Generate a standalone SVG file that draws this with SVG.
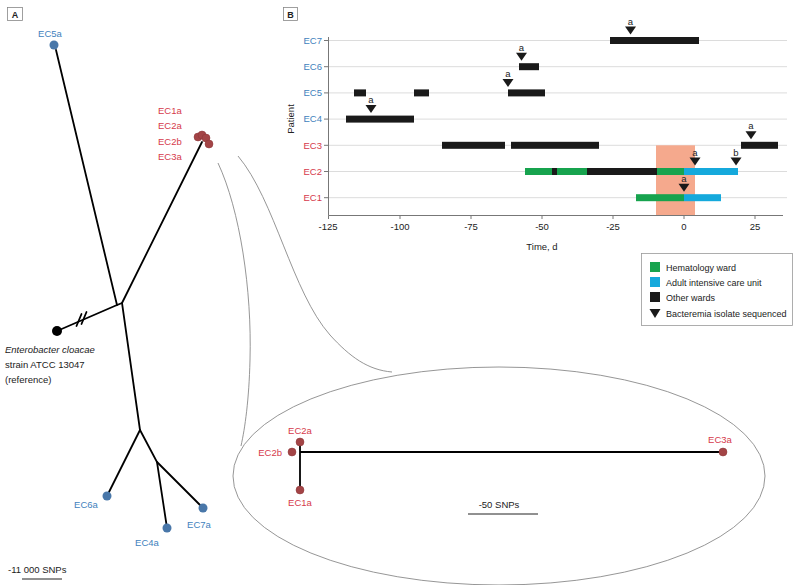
<svg xmlns="http://www.w3.org/2000/svg" width="800" height="585" viewBox="0 0 800 585">
<defs>
<style>
text{font-family:"Liberation Sans",Arial,sans-serif;font-size:9.5px}
.blue{fill:#3f82bd}
.red{fill:#d63a4c}
.bdot{fill:#4977a9}
.rdot{fill:#a34446;stroke:#8a3436;stroke-width:0.5}
.br{stroke:#000;stroke-width:1.8;fill:none;stroke-linecap:round}
.grid{stroke:#dcdcdc;stroke-width:1}
.ax{stroke:#777;stroke-width:1;fill:none}
.tick{font-size:9.5px;fill:#222;text-anchor:middle}
.blk{fill:#1a1a1a}
.grn{fill:#17a34e}
.cyn{fill:#15a9dc}
.tri{fill:#1a1a1a}
.sm{font-size:9.5px;fill:#222;text-anchor:middle}
.gray{stroke:#8a8a8a;stroke-width:0.9;fill:none}
.pl{fill:#fff;stroke:#888;stroke-width:0.8}
.plt{font-weight:bold;font-size:9px;text-anchor:middle;fill:#222}
.lg{font-size:9px;fill:#222}
</style>
</defs>
<rect width="800" height="585" fill="#fff"/>

<!-- Panel labels -->
<g id="panelA"><rect class="pl" x="7.5" y="7.5" width="15" height="13"/><text class="plt" x="15" y="17.5">A</text></g>
<g id="panelB"><rect class="pl" x="283.5" y="7.5" width="14" height="13"/><text class="plt" x="290.5" y="17.5">B</text></g>

<!-- Zoom curves and ellipse -->
<g id="zoom">
<path class="gray" d="M218,163 C240,210 252,290 250,360 C249,400 245,428 241,446"/>
<path class="gray" d="M238,156 C275,200 292,292 330,335 C350,357 368,370 392,372"/>
<ellipse class="gray" cx="499" cy="476" rx="266" ry="109"/>
</g>

<!-- Tree connectors -->
<g id="connectors">
<path class="br" d="M56,50 L117,305 L122,303"/>
<path class="br" d="M57,331 L117,305"/>
<path class="br" d="M202,142 L122,303 L140,430"/>
<path class="br" d="M140,430 L107,496"/>
<path class="br" d="M140,430 L157,462 L167,528"/>
<path class="br" d="M157,462 L203,508"/>
<path class="br" stroke-width="1.3" d="M76.5,326 L81.5,314 M81.5,324 L86.5,312"/>
<path class="br" d="M300,452 L719,452 M300,446 L300,486"/>
</g>

<!-- Tree nodes -->
<g id="EC5a"><circle class="bdot" cx="54" cy="45" r="4.5"/><text class="blue" x="50" y="37" text-anchor="middle">EC5a</text></g>
<g id="EC6a"><circle class="bdot" cx="107" cy="496" r="4.5"/><text class="blue" x="86" y="508" text-anchor="middle">EC6a</text></g>
<g id="EC4a"><circle class="bdot" cx="167" cy="528" r="4.5"/><text class="blue" x="147" y="546" text-anchor="middle">EC4a</text></g>
<g id="EC7a"><circle class="bdot" cx="203" cy="508" r="4.5"/><text class="blue" x="199" y="528" text-anchor="middle">EC7a</text></g>
<g id="cluster">
<circle class="rdot" cx="198" cy="137" r="4"/>
<circle class="rdot" cx="202" cy="135" r="4"/>
<circle class="rdot" cx="206" cy="138" r="4"/>
<circle class="rdot" cx="209" cy="144" r="4"/>
<text class="red" x="158" y="113.5">EC1a</text>
<text class="red" x="158" y="129">EC2a</text>
<text class="red" x="158" y="144.5">EC2b</text>
<text class="red" x="158" y="160">EC3a</text>
</g>
<g id="reference"><circle cx="57" cy="331" r="5" fill="#000"/>
<text x="5" y="353" font-size="10" font-style="italic" fill="#222">Enterobacter cloacae</text>
<text x="5" y="368" font-size="10" fill="#222">strain ATCC 13047</text>
<text x="5" y="383" font-size="10" fill="#222">(reference)</text>
</g>
<g id="scaleA"><text x="8" y="573" fill="#222">-11 000 SNPs</text><line x1="22" y1="579" x2="62" y2="579" stroke="#222" stroke-width="1"/></g>

<!-- Inner tree nodes -->
<g id="iEC2a"><circle class="rdot" cx="300" cy="442" r="4"/><text class="red" x="300" y="434" text-anchor="middle">EC2a</text></g>
<g id="iEC2b"><circle class="rdot" cx="292" cy="452" r="4"/><text class="red" x="282" y="455.5" text-anchor="end">EC2b</text></g>
<g id="iEC1a"><circle class="rdot" cx="300" cy="490" r="4"/><text class="red" x="300" y="506" text-anchor="middle">EC1a</text></g>
<g id="iEC3a"><circle class="rdot" cx="723" cy="452" r="4"/><text class="red" x="720" y="443" text-anchor="middle">EC3a</text></g>
<g id="scaleB"><text x="499" y="508" text-anchor="middle" fill="#222">-50 SNPs</text><line x1="468" y1="514" x2="538" y2="514" stroke="#222" stroke-width="1"/></g>

<!-- Panel B chart -->
<g id="chart">
<g id="grid">
<line class="grid" x1="328" y1="40.5" x2="787" y2="40.5"/>
<line class="grid" x1="328" y1="66.7" x2="787" y2="66.7"/>
<line class="grid" x1="328" y1="92.9" x2="787" y2="92.9"/>
<line class="grid" x1="328" y1="119.1" x2="787" y2="119.1"/>
<line class="grid" x1="328" y1="145.3" x2="787" y2="145.3"/>
<line class="grid" x1="328" y1="171.5" x2="787" y2="171.5"/>
<line class="grid" x1="328" y1="197.7" x2="787" y2="197.7"/>
</g>
<rect x="656" y="145.3" width="39" height="70.2" fill="#f5a98d"/>
<g id="axes">
<path class="ax" d="M328.5,37 V215.5 H783"/>
<path class="ax" d="M324,40.5 H328 M324,66.7 H328 M324,92.9 H328 M324,119.1 H328 M324,145.3 H328 M324,171.5 H328 M324,197.7 H328"/>
<path class="ax" d="M328.5,215.5 V219 M400,215.5 V219 M471,215.5 V219 M542,215.5 V219 M613,215.5 V219 M684,215.5 V219 M755,215.5 V219"/>
<text class="tick" x="328" y="230">-125</text>
<text class="tick" x="400" y="230">-100</text>
<text class="tick" x="471" y="230">-75</text>
<text class="tick" x="542" y="230">-50</text>
<text class="tick" x="613" y="230">-25</text>
<text class="tick" x="684" y="230">0</text>
<text class="tick" x="755" y="230">25</text>
<text x="542" y="250" text-anchor="middle" fill="#222">Time, d</text>
<text x="0" y="0" transform="translate(294,119) rotate(-90)" text-anchor="middle" fill="#222">Patient</text>
<text class="blue" x="322" y="43.7" text-anchor="end">EC7</text>
<text class="blue" x="322" y="69.9" text-anchor="end">EC6</text>
<text class="blue" x="322" y="96.1" text-anchor="end">EC5</text>
<text class="blue" x="322" y="122.3" text-anchor="end">EC4</text>
<text class="red" x="322" y="148.5" text-anchor="end">EC3</text>
<text class="red" x="322" y="174.7" text-anchor="end">EC2</text>
<text class="red" x="322" y="200.9" text-anchor="end">EC1</text>
</g>
<g id="bars">
<rect class="blk" x="610" y="37" width="89" height="7"/>
<rect class="blk" x="519" y="63.2" width="20" height="7"/>
<rect class="blk" x="354" y="89.4" width="12" height="7"/>
<rect class="blk" x="414" y="89.4" width="15" height="7"/>
<rect class="blk" x="508" y="89.4" width="37" height="7"/>
<rect class="blk" x="346" y="115.6" width="68" height="7"/>
<rect class="blk" x="442" y="141.8" width="63" height="7"/>
<rect class="blk" x="511" y="141.8" width="88" height="7"/>
<rect class="blk" x="741" y="141.8" width="37" height="7"/>
<rect class="grn" x="525" y="168" width="27" height="7"/>
<rect class="blk" x="552" y="168" width="5" height="7"/>
<rect class="grn" x="557" y="168" width="30" height="7"/>
<rect class="blk" x="587" y="168" width="70" height="7"/>
<rect class="grn" x="657" y="168" width="27" height="7"/>
<rect class="cyn" x="684" y="168" width="54" height="7"/>
<rect class="grn" x="636" y="194.2" width="48" height="7"/>
<rect class="cyn" x="684" y="194.2" width="37" height="7"/>
</g>
<g id="markers">
<path class="tri" d="M625,26.5 h11 l-5.5,8 z"/><text class="sm" x="630.5" y="24.5">a</text>
<path class="tri" d="M516,52.7 h11 l-5.5,8 z"/><text class="sm" x="521.5" y="50.7">a</text>
<path class="tri" d="M502.5,78.9 h11 l-5.5,8 z"/><text class="sm" x="508" y="76.9">a</text>
<path class="tri" d="M365.5,105.1 h11 l-5.5,8 z"/><text class="sm" x="371" y="103.1">a</text>
<path class="tri" d="M745.5,131.3 h11 l-5.5,8 z"/><text class="sm" x="751" y="129.3">a</text>
<path class="tri" d="M689.5,157.5 h11 l-5.5,8 z"/><text class="sm" x="695" y="155.5">a</text>
<path class="tri" d="M730.5,157.5 h11 l-5.5,8 z"/><text class="sm" x="736" y="155.5">b</text>
<path class="tri" d="M678.5,183.7 h11 l-5.5,8 z"/><text class="sm" x="684" y="181.7">a</text>
</g>
</g>

<!-- Legend -->
<g id="legend">
<rect x="641.5" y="253.5" width="151" height="72" fill="#fff" stroke="#999" stroke-width="0.8"/>
<rect class="grn" x="650" y="262" width="10" height="10"/><text class="lg" x="666" y="271">Hematology ward</text>
<rect class="cyn" x="650" y="277" width="10" height="10"/><text class="lg" x="666" y="286">Adult intensive care unit</text>
<rect class="blk" x="650" y="292" width="10" height="10"/><text class="lg" x="666" y="301">Other wards</text>
<path class="tri" d="M649.5,309 h11 l-5.5,9 z"/><text class="lg" x="666" y="317">Bacteremia isolate sequenced</text>
</g>
</svg>
